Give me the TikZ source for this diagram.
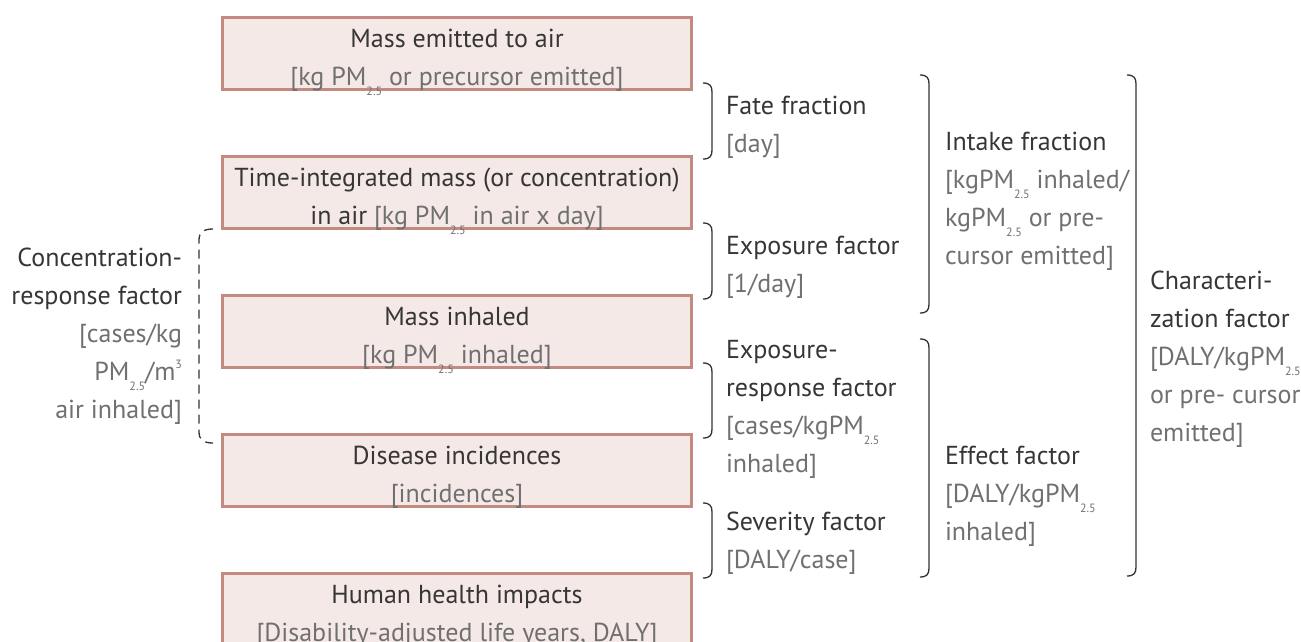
\documentclass[tikz,border=0pt]{standalone}
\usepackage{fontspec}
\setmainfont{PT Sans}
\definecolor{boxline}{HTML}{C28A80}
\definecolor{boxfill}{HTML}{F5E9E7}
\definecolor{headc}{HTML}{363636}
\definecolor{unitc}{HTML}{707070}
\definecolor{brkc}{HTML}{333333}
\newcommand\pmx{PM\raisebox{-0.42em}{\fontsize{12}{12}\selectfont 2.5}}
\newcommand\cubx{\raisebox{0.45em}{\fontsize{12}{12}\selectfont 3}}
\newcommand\unitx[1]{{\color{unitc}#1}}
\begin{document}
\begin{tikzpicture}[x=1pt,y=-1pt,
  box/.style={draw=boxline,fill=boxfill,line width=3pt,minimum width=469pt,minimum height=72pt,inner sep=0pt},
  txt/.style={font=\fontsize{26}{38}\selectfont,text=headc,inner sep=0pt,outer sep=0pt},
  ctxt/.style={txt,align=center,anchor=base},
  ltxt/.style={txt,align=left,anchor=base west},
  rtxt/.style={txt,align=right,anchor=base east},
  brk/.style={draw=brkc,line width=1.3pt},
  dbrk/.style={brk,dash pattern=on 9pt off 6pt}]
\useasboundingbox (0,0) rectangle (1301,641);
% boxes
\node[box] (b1) at (457,53) {};
\node[box] (b2) at (457,192.5) {};
\node[box] (b3) at (457,331.5) {};
\node[box] (b4) at (457,470.5) {};
\node[box] (b5) at (457,609.5) {};
% box texts (anchor = baseline of last line)
\node[ctxt] (t1) at (457,85) {Mass emitted to air\\ \unitx{[kg \pmx{} or precursor emitted]}};
\node[ctxt] (t2) at (457,224) {Time-integrated mass (or concentration)\\ in air \unitx{[kg \pmx{} in air x day]}};
\node[ctxt] (t3) at (457,363) {Mass inhaled\\ \unitx{[kg \pmx{} inhaled]}};
\node[ctxt] (t4) at (457,502) {Disease incidences\\ \unitx{[incidences]}};
\node[ctxt] (t5) at (457,641) {Human health impacts\\ \unitx{[Disability-adjusted life years, DALY]}};
% brackets
\newcommand\rbrk[3]{\draw[brk] (#1-9,#2) .. controls (#1-2,#2) and (#1,#2+3) .. (#1,#2+9) -- (#1,#3-9) .. controls (#1,#3-3) and (#1-2,#3) .. (#1-9,#3);}
\rbrk{712}{83}{159}
\rbrk{712}{223}{299}
\rbrk{712}{363}{438}
\rbrk{712}{503}{578}
\rbrk{929}{75}{313}
\rbrk{929}{339}{577}
\rbrk{1136}{75}{576}
\draw[dbrk] (213,229) .. controls (204,229) and (199,232) .. (199,240) -- (199,432) .. controls (199,440) and (204,443) .. (213,443);
% labels (anchor = baseline of last line)
\node[ltxt] (ff) at (726,152) {Fate fraction\\ \unitx{[day]}};
\node[ltxt] (ef) at (726,292) {Exposure factor\\ \unitx{[1/day]}};
\node[ltxt] (erf) at (726,472) {Exposure-\\ response factor\\ \unitx{[cases/kg\pmx}\\ \unitx{inhaled]}};
\node[ltxt] (sf) at (726,568) {Severity factor\\ \unitx{[DALY/case]}};
\node[ltxt] (inf) at (945,264) {Intake fraction\\ \unitx{[kg\pmx{} inhaled/}\\ \unitx{kg\pmx{} or pre-}\\ \unitx{cursor emitted]}};
\node[ltxt] (eff) at (945,540) {Effect factor\\ \unitx{[DALY/kg\pmx}\\ \unitx{inhaled]}};
\node[ltxt] (cf) at (1150,441) {Characteri-\\ zation factor\\ \unitx{[DALY/kg\pmx}\\ \unitx{or pre- cursor}\\ \unitx{emitted]}};
\node[rtxt] (crf) at (182,418) {Concentration-\\ response factor\\ \unitx{[cases/kg}\\ \unitx{\pmx/m\cubx}\\ \unitx{air inhaled]}};
\end{tikzpicture}
\end{document}
